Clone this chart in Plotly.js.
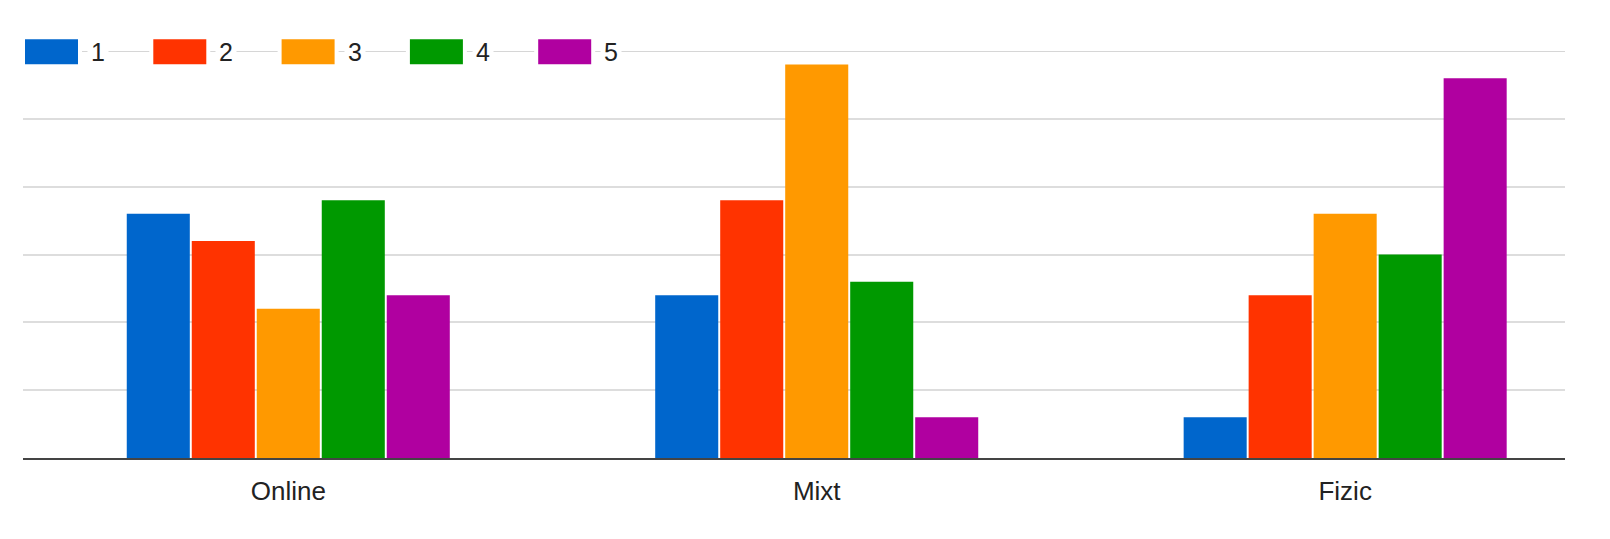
<!DOCTYPE html>
<html>
<head>
<meta charset="utf-8">
<script src="https://cdn.plot.ly/plotly-3.0.1.min.js"></script>
<style>
  html, body { margin: 0; padding: 0; background: #fff; }
  #plotArea { width: 1610px; height: 539px; }
</style>
</head>
<body>
<div id="plotArea"></div>
<script>
// categories and answer counts per rating (1..5)
var categories = ["Online", "Mixt", "Fizic"];
var seriesNames = ["1", "2", "3", "4", "5"];
var colors = ["#0066cc", "#ff3300", "#ff9900", "#009900", "#b000a0"];
var s1 = [18, 12, 3];
var s2 = [16, 19, 12];
var s3 = [11, 29, 18];
var s4 = [19, 13, 15];
var s5 = [12, 3, 28];
var seriesValues = [s1, s2, s3, s4, s5];
var yMax = 30;

var font = "Arial, 'Liberation Sans', sans-serif";

var traces = seriesValues.map(function (vals, i) {
    return {
        x: categories,
        y: vals,
        name: seriesNames[i],
        type: "bar",
        marker: {color: colors[i]},
        hoverinfo: "x+y+name"
    };
});

// plot area in pixels: left 23, right 1565, top 51, bottom 458
var L = 23, R = 1565, T = 51, B = 458;
function px(X) { return (X - L) / (R - L); }
function py(Y) { return (B - Y) / (B - T); }

// top gridline (at the edge of the range, plotly skips it)
var shapes = [{
    type: "line", xref: "paper", yref: "y", layer: "below",
    x0: 0, x1: 1, y0: yMax, y1: yMax,
    line: {color: "#d6d6d6", width: 2}
}];
var annotations = [];

// legend drawn along the top gridline
seriesNames.forEach(function (name, i) {
    var x0 = 25 + 128.3 * i;
    shapes.push({
        type: "rect", xref: "paper", yref: "paper",
        x0: px(x0 - 2), x1: px(x0 + 55), y0: py(66.3), y1: py(37.3),
        fillcolor: colors[i], line: {color: "#ffffff", width: 4}
    });
    annotations.push({
        xref: "paper", yref: "paper",
        x: px(x0 + 73), y: py(52), xanchor: "center", yanchor: "middle",
        text: name, showarrow: false, bgcolor: "#ffffff", borderpad: 3,
        font: {family: font, size: 25, color: "#222222"}
    });
});

var layout = {
    width: 1610,
    height: 539,
    margin: {l: L, r: 1610 - R, t: T, b: 539 - B, pad: 0},
    paper_bgcolor: "#ffffff",
    plot_bgcolor: "#ffffff",
    showlegend: false,
    barmode: "group",
    bargap: 0.385,
    bargroupgap: 0.03,
    font: {family: font, color: "#222222"},
    xaxis: {
        type: "category",
        range: [-0.502, 2.416],
        showgrid: false,
        showline: true,
        linecolor: "#444444",
        linewidth: 2,
        ticks: "",
        ticklabelstandoff: 9,
        tickfont: {family: font, size: 26, color: "#222222"},
        fixedrange: true
    },
    yaxis: {
        range: [0, yMax],
        dtick: 5,
        showticklabels: false,
        showgrid: true,
        gridcolor: "#dddddd",
        gridwidth: 2,
        zeroline: false,
        showline: false,
        fixedrange: true
    },
    shapes: shapes,
    annotations: annotations
};

Plotly.newPlot("plotArea", traces, layout, {displayModeBar: false, staticPlot: true});
</script>
</body>
</html>
